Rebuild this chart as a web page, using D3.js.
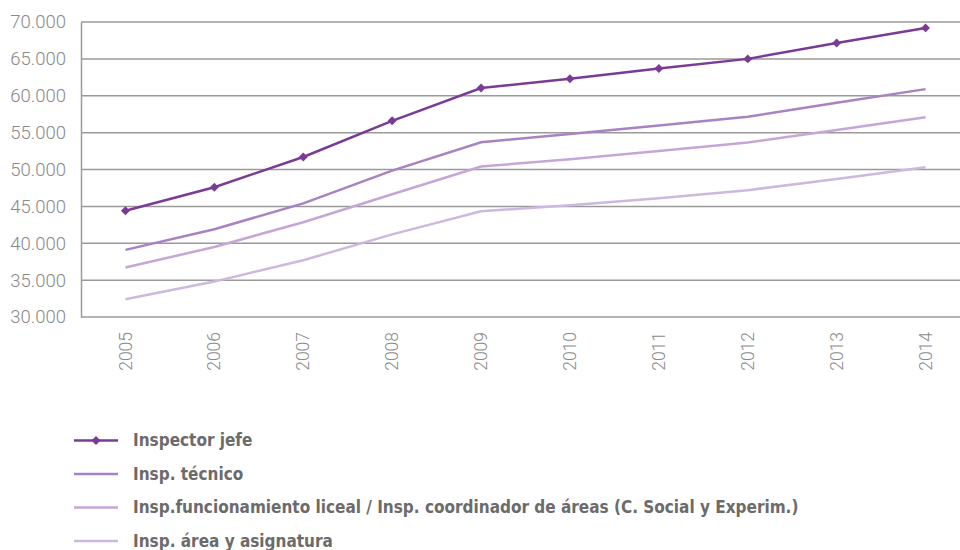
<!DOCTYPE html>
<html>
<head>
<meta charset="utf-8">
<script src="https://cdn.jsdelivr.net/npm/d3@7"></script>
<style>
  html, body { margin: 0; padding: 0; background: #fff; }
  svg { display: block; }
</style>
</head>
<body>
<svg id="chart" width="960" height="550"></svg>
<script>
// Salarios anuales de inspectores, 2005–2014
const years = ["2005", "2006", "2007", "2008", "2009", "2010", "2011", "2012", "2013", "2014"];
const inspectorJefe = [44400, 47600, 51700, 56600, 61050, 62300, 63700, 65000, 67150, 69200];
const inspTecnico = [39100, 41900, 45400, 49850, 53700, 54800, 55950, 57150, 59050, 60900];
const inspFuncionamiento = [36700, 39500, 42850, 46650, 50400, 51400, 52500, 53650, 55350, 57100];
const inspArea = [32400, 34800, 37700, 41200, 44350, 45150, 46100, 47200, 48700, 50300];
const seriesNames = [
  "Inspector jefe",
  "Insp. técnico",
  "Insp.funcionamiento liceal / Insp. coordinador de áreas (C. Social y Experim.)",
  "Insp. área y asignatura"
];
const yTicks = [30000, 35000, 40000, 45000, 50000, 55000, 60000, 65000, 70000];

const series = [
  { name: seriesNames[0], values: inspectorJefe, color: "#7a3b96", markers: true },
  { name: seriesNames[1], values: inspTecnico, color: "#a882c2", markers: false },
  { name: seriesNames[2], values: inspFuncionamiento, color: "#c6a6d6", markers: false },
  { name: seriesNames[3], values: inspArea, color: "#cdb8df", markers: false }
];

const svg = d3.select("#chart");
const plotLeft = 81, plotRight = 970, plotTop = 22, plotBottom = 317;

const x = d3.scaleBand().domain(years).range([plotLeft, plotRight]);
const y = d3.scaleLinear().domain([30000, 70000]).range([plotBottom, plotTop]);
const thousands = d => d3.format(",")(d).replace(/,/g, ".");
const diamond = d3.symbol(d3.symbolSquare, 40);

// Horizontal gridlines
svg.append("g")
  .selectAll("line")
  .data(yTicks)
  .join("line")
  .attr("x1", plotLeft).attr("x2", 960)
  .attr("y1", d => y(d)).attr("y2", d => y(d))
  .attr("stroke", "#9a9a9a")
  .attr("stroke-width", 1.5);

// Y axis
const yAxis = svg.append("g")
  .attr("transform", `translate(${plotLeft},0)`)
  .call(d3.axisLeft(y).tickValues(yTicks).tickSize(0).tickPadding(15).tickFormat(thousands));
yAxis.select(".domain").attr("stroke", "#9a9a9a").attr("stroke-width", 1.5);
yAxis.selectAll("text")
  .attr("fill", "#8a8a8a")
  .style("font-family", "Roboto, 'Open Sans', sans-serif")
  .style("font-weight", 300)
  .style("font-size", "18.5px");

// X axis labels (rotated)
const xAxis = svg.append("g")
  .attr("transform", `translate(0,${plotBottom})`)
  .call(d3.axisBottom(x).tickSize(0).tickPadding(0));
xAxis.select(".domain").remove();
xAxis.selectAll("text")
  .attr("fill", "#8a8a8a")
  .style("font-family", "Roboto, 'Open Sans', sans-serif")
  .style("font-weight", 300)
  .style("font-size", "17.5px")
  .attr("text-anchor", "end")
  .attr("y", 0)
  .attr("dy", "0.35em")
  .attr("transform", "translate(0,15) rotate(-90)");

// Lines
const cx = i => x(years[i]) + x.bandwidth() / 2;
series.slice().reverse().forEach(s => {
  const line = d3.line().x((d, i) => cx(i)).y(d => y(d));
  svg.append("path")
    .datum(s.values)
    .attr("fill", "none")
    .attr("stroke", s.color)
    .attr("stroke-width", 2.5)
    .attr("d", line);
  if (s.markers) {
    svg.append("g")
      .selectAll("path")
      .data(s.values)
      .join("path")
      .attr("d", diamond)
      .attr("transform", (d, i) => `translate(${cx(i)},${y(d)}) rotate(45)`)
      .attr("fill", s.color);
  }
});

// Legend
const legend = svg.append("g");
const legendY = [440.5, 474, 507.5, 541];
series.forEach((s, i) => {
  const g = legend.append("g").attr("transform", `translate(0,${legendY[i]})`);
  g.append("line")
    .attr("x1", 74).attr("x2", 118)
    .attr("stroke", s.color).attr("stroke-width", 2.5);
  if (s.markers) {
    g.append("path")
      .attr("d", diamond)
      .attr("transform", "translate(96,0) rotate(45)")
      .attr("fill", s.color);
  }
  g.append("text")
    .attr("x", 133)
    .attr("dy", "0.35em")
    .attr("fill", "#6b6b6b")
    .style("font-family", "'Liberation Sans Narrow', 'DejaVu Sans Condensed', sans-serif")
    .style("font-weight", 700)
    .style("font-size", "17px")
    .text(s.name);
});
</script>
</body>
</html>
